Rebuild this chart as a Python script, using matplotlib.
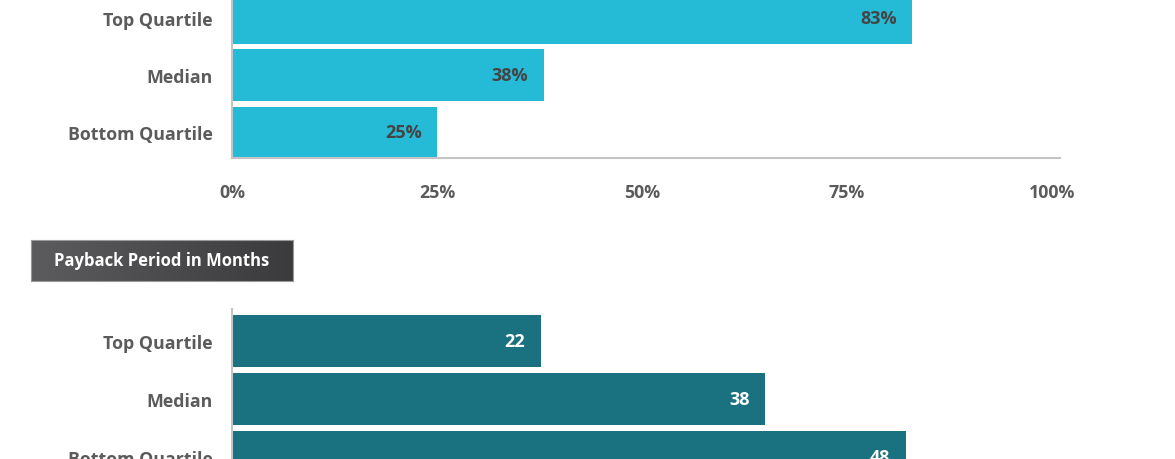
import numpy as np
import matplotlib
matplotlib.use('Agg')
import matplotlib.pyplot as plt

#--data
cats     = ['Top Quartile','Median','Bottom Quartile']
roi      = [83,38,25]
payback  = [22,38,48]
roi_ticks = [0,25,50,75,100]
title2   = 'Payback Period in Months'

#--style
c_top  = '#25bbd7'
c_bot  = '#1a717f'
c_lab  = '#5b5b5b'
c_spn  = '#c4c4c4'
plt.rcParams['font.family'] = ['Open Sans','DejaVu Sans']
plt.rcParams['font.weight'] = 'bold'

W,H = 1175,460
fig = plt.figure(figsize=(W/100,H/100),dpi=100)

def box(x0,y0,x1,y1):
    #--pixel box (from top-left) to figure coords
    return [x0/W,1-y1/H,(x1-x0)/W,(y1-y0)/H]

def style(ax):
    for s in ['top','right']: ax.spines[s].set_visible(False)
    for s in ['left','bottom']:
        ax.spines[s].set_color(c_spn)
        ax.spines[s].set_linewidth(1.5)
    ax.tick_params(axis='both',length=0,labelsize=12.8,labelcolor=c_lab)
    ax.tick_params(axis='y',pad=14)
    ax.set_yticks(range(len(cats)))
    ax.set_yticklabels(cats)

#--top chart
ax1 = fig.add_axes(box(232,0,1060,159))
ax1.barh(range(len(cats)),roi,height=0.9,color=c_top)
ax1.set_xlim(0,101)
ax1.set_ylim(2.45,-0.33)
style(ax1)
ax1.set_xticks(roi_ticks)
ax1.set_xticklabels(['%d%%'%t for t in roi_ticks])
ax1.tick_params(axis='x',pad=18)
for i,v in enumerate(roi):
    ax1.annotate('%d%%'%v,(v,i),xytext=(-11,0),textcoords='offset points',
                 ha='right',va='center',fontsize=13,color='#444444',fontweight='bold')

#--title box
axt = fig.add_axes(box(31,241,293,282))
grad = np.linspace(0,1,256)[None,:]
axt.imshow(grad,aspect='auto',cmap=matplotlib.colors.LinearSegmentedColormap.from_list('g',['#5c5c5e','#3b3b3d']),
           extent=[0,1,0,1])
axt.set_xlim(0,1); axt.set_ylim(0,1)
axt.set_xticks([]); axt.set_yticks([])
for s in axt.spines.values():
    s.set_color('#9a9a9a'); s.set_linewidth(0.8)
axt.text(0.5,0.5,title2,ha='center',va='center',color='white',fontsize=12,fontweight='bold')

#--bottom chart
ax2 = fig.add_axes(box(232,310,1060,460))
ax2.barh(range(len(cats)),payback,height=0.9,color=c_bot)
ax2.set_xlim(0,59)
ax2.set_ylim(2.03,-0.55)
style(ax2)
ax2.spines['bottom'].set_visible(False)
ax2.set_xticks([])
for i,v in enumerate(payback):
    ax2.annotate('%d'%v,(v,i),xytext=(-11,0),textcoords='offset points',
                 ha='right',va='center',fontsize=13,color='white',fontweight='bold')

fig.savefig('out.png',dpi=100)
